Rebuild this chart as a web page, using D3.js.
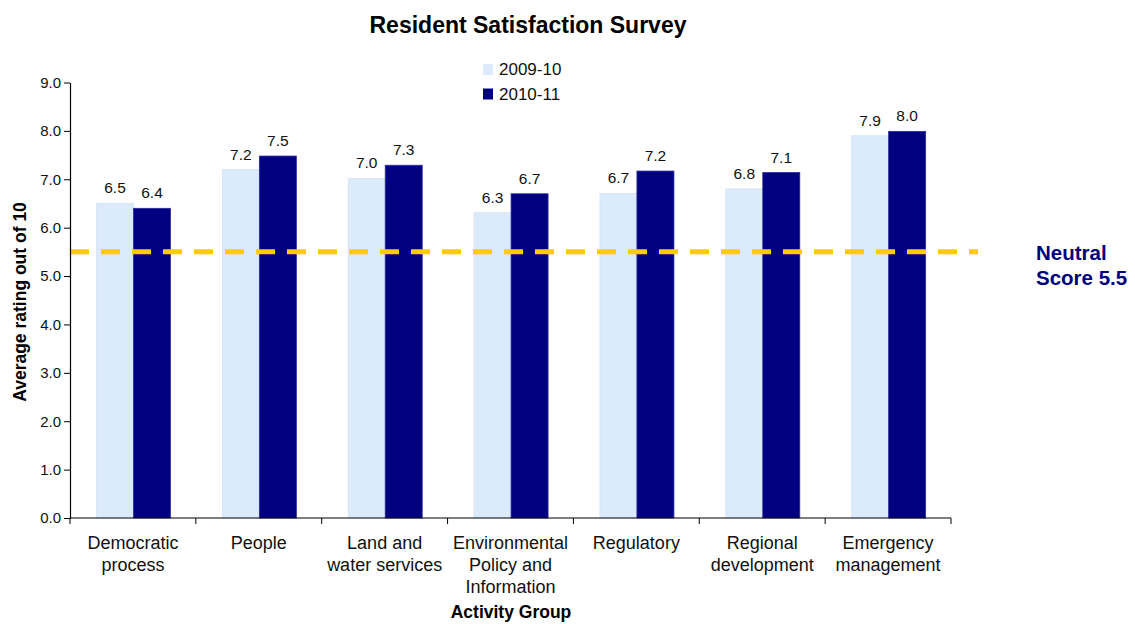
<!DOCTYPE html>
<html><head><meta charset="utf-8">
<script src="https://cdn.jsdelivr.net/npm/d3@7"></script>
<style>body{margin:0;background:#fff}svg{display:block;font-family:"Liberation Sans",Arial,sans-serif}</style>
</head><body><svg id="c" width="1135" height="624"></svg>
<script>
const categories = [["Democratic","process"],["People"],["Land and","water services"],["Environmental","Policy and","Information"],["Regulatory"],["Regional","development"],["Emergency","management"]];
const series = ["2009-10","2010-11"];
const values2009 = [6.5,7.2,7.02,6.31,6.71,6.8,7.9];
const values2010 = [6.4,7.48,7.29,6.7,7.17,7.14,7.99];
const neutralScore = 5.5;
const yTicks = [0,1,2,3,4,5,6,7,8,9];
const colors = ["#dcebfb","#000080"];

const svg = d3.select("#c");
const L = 70, R = 951, T = 82.5, B = 518;
const x = d3.scaleBand().domain(d3.range(categories.length)).range([L,R]);
const y = d3.scaleLinear().domain([0,9]).range([B,T]);
const bw = 37, off = 26.5;

// bars
const data = [values2009, values2010];
data.forEach((vals,si)=>{
  svg.append("g").selectAll("rect").data(vals).join("rect")
    .attr("x",(d,i)=>x(i)+off+si*bw).attr("y",d=>y(d))
    .attr("width",bw).attr("height",d=>B-y(d))
    .attr("fill",colors[si])
    .attr("stroke", si ? "#2b2b9c" : "#d3e3f5").attr("stroke-width",0.8);
  svg.append("g").selectAll("text").data(vals).join("text")
    .attr("x",(d,i)=>x(i)+off+si*bw+bw/2).attr("y",d=>y(d)-10)
    .attr("text-anchor","middle").attr("font-size",15.5).attr("fill","#111")
    .text(d=>d3.format(".1f")(d));
});

// neutral line
svg.append("line").attr("x1",L).attr("x2",978).attr("y1",y(neutralScore)).attr("y2",y(neutralScore))
  .attr("stroke","#ffcc00").attr("stroke-width",5).attr("stroke-dasharray","19,12");

// y axis
const ya = svg.append("g").attr("transform",`translate(${L},0)`)
  .call(d3.axisLeft(y).tickValues(yTicks).tickFormat(d3.format(".1f")).tickSize(6).tickSizeOuter(0));
ya.select(".domain").attr("stroke","#000").attr("stroke-width",1.2);
ya.selectAll(".tick line").attr("stroke","#000");
ya.selectAll(".tick text").attr("font-size",15).attr("fill","#111").attr("x",-9).attr("font-family","Liberation Sans, Arial");

// x axis
svg.append("line").attr("x1",L).attr("x2",R).attr("y1",B).attr("y2",B).attr("stroke","#000").attr("stroke-width",1.2);
svg.append("g").selectAll("line").data(d3.range(categories.length+1)).join("line")
  .attr("x1",i=>L+i*x.bandwidth()).attr("x2",i=>L+i*x.bandwidth())
  .attr("y1",B).attr("y2",B+6).attr("stroke","#000");
const cl = svg.append("g").selectAll("text").data(categories).join("text")
  .attr("text-anchor","middle").attr("font-size",18).attr("fill","#111");
cl.each(function(lines,i){
  d3.select(this).selectAll("tspan").data(lines).join("tspan")
    .attr("x",x(i)+x.bandwidth()/2).attr("y",(d,j)=>549+j*22).text(d=>d);
});

// titles
svg.append("text").attr("x",528).attr("y",33).attr("text-anchor","middle")
  .attr("font-size",23).attr("font-weight","bold").attr("fill","#000").text("Resident Satisfaction Survey");
svg.append("text").attr("transform","translate(26,302) rotate(-90)").attr("text-anchor","middle")
  .attr("font-size",17.5).attr("font-weight","bold").attr("fill","#000").text("Average rating out of 10");
svg.append("text").attr("x",511).attr("y",618).attr("text-anchor","middle")
  .attr("font-size",17.5).attr("font-weight","bold").attr("fill","#000").text("Activity Group");

// neutral label
svg.append("text").attr("font-size",20.5).attr("font-weight","bold").attr("fill","#000080")
  .selectAll("tspan").data(["Neutral","Score "+neutralScore.toFixed(1)]).join("tspan")
  .attr("x",1036).attr("y",(d,j)=>260+j*25).text(d=>d);

// legend
const lg = svg.append("g").selectAll("g").data(series).join("g")
  .attr("transform",(d,i)=>`translate(483,${64+i*24.5})`);
lg.append("rect").attr("width",10).attr("height",11).attr("fill",(d,i)=>colors[i]);
lg.append("text").attr("x",16).attr("y",11).attr("font-size",17).attr("fill","#111").text(d=>d);
</script></body></html>
